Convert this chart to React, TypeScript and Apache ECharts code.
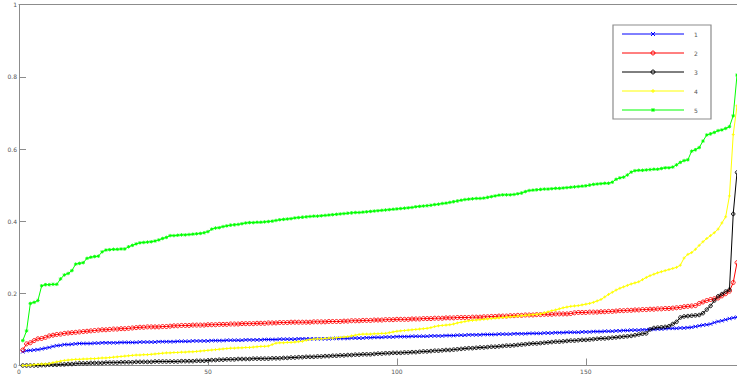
import { useEffect, useRef } from "react";
import * as echarts from "echarts";

// Tick positions shown on each axis
const xTicks = [0, 50, 100, 150];
const yTicks = [0, 0.2, 0.4, 0.6, 0.8, 1];

// Series labels as they appear in the legend
const seriesNames = ["1", "2", "3", "4", "5"];

// Sorted values per series, in thousandths, for x = 1..190
const series1 = [
  38, 41, 42, 43, 44, 46, 48, 50, 53, 55,
  56, 58, 58, 59, 60, 61, 61, 61, 61, 62,
  62, 63, 63, 63, 63, 63, 64, 64, 64, 64,
  64, 65, 65, 65, 65, 65, 66, 66, 66, 66,
  66, 67, 67, 67, 67, 68, 68, 68, 68, 68,
  69, 69, 69, 69, 70, 70, 70, 70, 70, 71,
  71, 71, 71, 71, 72, 72, 72, 72, 73, 73,
  73, 73, 73, 74, 74, 74, 74, 74, 74, 74,
  74, 74, 75, 75, 75, 75, 75, 76, 76, 76,
  76, 77, 77, 78, 78, 78, 79, 79, 79, 80,
  80, 80, 80, 81, 81, 81, 81, 81, 82, 82,
  82, 82, 83, 83, 83, 84, 84, 84, 85, 85,
  85, 85, 86, 86, 86, 86, 87, 87, 87, 87,
  88, 88, 88, 88, 89, 89, 89, 89, 90, 90,
  90, 91, 91, 91, 92, 92, 92, 92, 93, 93,
  93, 94, 94, 94, 95, 95, 95, 96, 96, 97,
  97, 98, 98, 98, 99, 99, 100, 100, 101, 101,
  102, 103, 103, 103, 104, 104, 105, 106, 108, 110,
  112, 113, 115, 119, 122, 124, 127, 130, 132, 134,
];

const series2 = [
  43, 60, 63, 69, 74, 75, 78, 82, 84, 86,
  87, 89, 90, 91, 92, 93, 94, 95, 96, 97,
  98, 99, 99, 100, 101, 101, 102, 102, 103, 104,
  105, 106, 106, 107, 107, 107, 107, 108, 108, 109,
  110, 110, 111, 111, 111, 112, 112, 112, 112, 113,
  113, 113, 114, 114, 114, 115, 115, 115, 116, 116,
  116, 116, 117, 117, 117, 118, 118, 118, 119, 119,
  119, 120, 120, 120, 120, 120, 120, 121, 121, 121,
  121, 122, 122, 122, 122, 123, 123, 124, 124, 124,
  125, 125, 125, 126, 126, 126, 127, 127, 127, 128,
  128, 128, 128, 129, 129, 129, 130, 130, 130, 131,
  131, 131, 132, 132, 132, 133, 133, 133, 133, 134,
  134, 134, 135, 135, 136, 136, 137, 137, 137, 138,
  138, 139, 139, 140, 140, 140, 141, 141, 142, 142,
  142, 143, 143, 143, 143, 144, 146, 147, 147, 147,
  148, 148, 148, 149, 149, 150, 150, 151, 152, 152,
  153, 153, 154, 154, 155, 155, 156, 156, 157, 157,
  158, 158, 159, 160, 161, 163, 164, 165, 166, 172,
  176, 180, 183, 185, 187, 193, 199, 206, 230, 285,
];

const series3 = [
  0, 0, 0, 0, 0, 1, 1, 2, 2, 2,
  3, 3, 4, 4, 5, 6, 6, 6, 7, 7,
  7, 7, 8, 8, 8, 8, 9, 9, 9, 9,
  10, 10, 10, 10, 10, 11, 11, 11, 11, 11,
  11, 11, 12, 12, 12, 12, 13, 13, 13, 14,
  15, 15, 16, 16, 17, 17, 17, 18, 18, 18,
  18, 19, 19, 19, 19, 19, 20, 20, 20, 21,
  21, 22, 22, 23, 23, 24, 24, 24, 25, 25,
  26, 26, 27, 27, 28, 28, 29, 29, 30, 30,
  31, 31, 31, 32, 33, 33, 34, 34, 35, 35,
  35, 36, 36, 37, 37, 38, 39, 39, 40, 41,
  41, 42, 43, 43, 44, 45, 46, 47, 48, 48,
  49, 50, 50, 51, 52, 52, 53, 54, 55, 55,
  56, 57, 58, 59, 60, 61, 61, 62, 63, 64,
  65, 66, 66, 67, 68, 69, 69, 70, 71, 71,
  72, 73, 74, 75, 75, 76, 77, 78, 79, 80,
  81, 82, 84, 86, 88, 89, 100, 104, 105, 106,
  107, 109, 115, 121, 133, 136, 137, 138, 139, 140,
  145, 155, 165, 180, 192, 198, 205, 210, 420, 535,
];

const series4 = [
  0, 0, 1, 2, 3, 4, 4, 5, 8, 10,
  12, 14, 15, 16, 17, 17, 18, 18, 19, 19,
  20, 21, 21, 22, 23, 24, 25, 26, 27, 28,
  29, 29, 30, 30, 31, 32, 33, 34, 35, 35,
  36, 36, 37, 37, 38, 38, 39, 40, 41, 42,
  43, 44, 45, 46, 47, 48, 48, 49, 49, 50,
  50, 51, 52, 53, 53, 54, 58, 62, 63, 63,
  64, 64, 65, 66, 67, 70, 72, 73, 74, 74,
  75, 76, 76, 77, 78, 79, 80, 82, 84, 86,
  87, 87, 87, 88, 88, 89, 89, 91, 93, 95,
  96, 97, 98, 99, 100, 101, 102, 103, 105, 108,
  110, 111, 112, 113, 115, 118, 120, 122, 124, 125,
  126, 127, 128, 129, 130, 131, 132, 133, 134, 135,
  136, 137, 138, 139, 140, 141, 142, 143, 146, 149,
  152, 154, 157, 160, 162, 164, 165, 166, 168, 170,
  172, 175, 179, 183, 190, 197, 203, 209, 214, 218,
  222, 226, 229, 232, 238, 244, 249, 253, 257, 260,
  263, 266, 269, 272, 278, 298, 308, 313, 322, 333,
  343, 352, 360, 368, 378, 395, 412, 470, 640, 720,
];

const series5 = [
  69, 96, 172, 175, 180, 221, 224, 224, 225, 225,
  240, 251, 255, 263, 281, 283, 285, 297, 300, 302,
  303, 315, 320, 321, 322, 322, 323, 323, 329, 333,
  337, 340, 341, 342, 343, 345, 348, 352, 355, 360,
  360, 361, 362, 362, 363, 364, 365, 366, 368, 371,
  378, 381, 382, 385, 387, 389, 390, 391, 393, 395,
  396, 396, 397, 397, 398, 399, 400, 402, 404, 405,
  406, 407, 409, 410, 411, 412, 413, 414, 414, 415,
  416, 417, 418, 419, 420, 421, 422, 423, 424, 424,
  425, 426, 427, 428, 429, 430, 431, 432, 433, 434,
  435, 436, 437, 438, 440, 441, 442, 443, 444, 446,
  447, 449, 450, 452, 454, 456, 458, 460, 461, 462,
  463, 463, 464, 466, 468, 470, 472, 473, 473, 473,
  474, 476, 478, 482, 485, 486, 487, 488, 489, 489,
  490, 491, 491, 492, 493, 494, 495, 496, 497, 498,
  500, 502, 503, 504, 505, 505, 508, 516, 520, 522,
  528, 536, 540, 541, 541, 542, 543, 544, 544, 546,
  548, 548, 550, 556, 563, 568, 570, 594, 598, 604,
  622, 639, 642, 646, 651, 653, 657, 662, 692, 805,
];

const allSeries = [series1, series2, series3, series4, series5];

const COLORS = ["#0000ff", "#ff0000", "#000000", "#ffff00", "#00ff00"];
const MARKERS = ["x", "o", "o", "+", "*"];
const MARKER_SIZES = [3.5, 4, 3.5, 3, 3.5];

const AXIS_COLOR = "#8c8c8c";
const TEXT_COLOR = "#555555";
const FONT = "DejaVu Sans, Liberation Sans, sans-serif";

function symbolFor(kind: string): string {
  switch (kind) {
    case "x":
      return "path://M0,0L4,4M4,0L0,4";
    case "+":
      return "path://M2,0L2,4M0,2L4,2";
    case "*":
      return "path://M2,0L2,4M0,2L4,2M0.6,0.6L3.4,3.4M3.4,0.6L0.6,3.4";
    default:
      return "circle";
  }
}

// Marker glyph for the legend box, centred on (cx, cy)
function legendMarker(kind: string, cx: number, cy: number, color: string): any[] {
  const st = { stroke: color, lineWidth: 1, fill: "none" };
  const seg = (x1: number, y1: number, x2: number, y2: number) => ({
    type: "line",
    shape: { x1, y1, x2, y2 },
    style: st,
    silent: true,
  });
  const r = 2;
  if (kind === "o") {
    return [{ type: "circle", shape: { cx, cy, r: 2 }, style: st, silent: true }];
  }
  if (kind === "x") {
    return [seg(cx - r, cy - r, cx + r, cy + r), seg(cx + r, cy - r, cx - r, cy + r)];
  }
  if (kind === "+") {
    return [seg(cx - r, cy, cx + r, cy), seg(cx, cy - r, cx, cy + r)];
  }
  return [
    seg(cx - r, cy, cx + r, cy),
    seg(cx, cy - r, cx, cy + r),
    seg(cx - 1.4, cy - 1.4, cx + 1.4, cy + 1.4),
    seg(cx + 1.4, cy - 1.4, cx - 1.4, cy + 1.4),
  ];
}

export default function App() {
  const ref = useRef<HTMLDivElement>(null);

  useEffect(() => {
    if (!ref.current) return;
    const chart = echarts.init(ref.current, null, { renderer: "svg" });

    const series = allSeries.map((vals, si) => ({
      type: "line",
      name: seriesNames[si],
      data: vals.map((v, i) => [i + 1, v / 1000]),
      symbol: symbolFor(MARKERS[si]),
      symbolSize: MARKER_SIZES[si],
      showAllSymbol: true,
      lineStyle: { color: COLORS[si], width: 1 },
      itemStyle: { color: "rgba(0,0,0,0)", borderColor: COLORS[si], borderWidth: 0.9 },
      emphasis: { disabled: true },
      silent: true,
      z: 2 + si,
    }));

    // Legend box in the upper right corner
    const boxX = 613;
    const boxY = 25;
    const rowYs = [34, 53, 72, 91, 110];
    const legendChildren: any[] = [
      {
        type: "rect",
        shape: { x: boxX, y: boxY, width: 98, height: 94 },
        style: { fill: "#ffffff", stroke: "#8c8c8c", lineWidth: 1.2 },
        silent: true,
      },
    ];
    seriesNames.forEach((name, si) => {
      const y = rowYs[si];
      legendChildren.push({
        type: "line",
        shape: { x1: 622, y1: y, x2: 684, y2: y },
        style: { stroke: COLORS[si], lineWidth: 1 },
        silent: true,
      });
      legendChildren.push(...legendMarker(MARKERS[si], 653, y, COLORS[si]));
      legendChildren.push({
        type: "text",
        x: 694,
        y,
        style: {
          text: name,
          fill: TEXT_COLOR,
          fontSize: 6,
          fontFamily: FONT,
          verticalAlign: "middle",
          align: "left",
        },
        silent: true,
      });
    });

    chart.setOption({
      animation: false,
      backgroundColor: "#ffffff",
      grid: { left: 19, right: 0, top: 4.7, bottom: 10.5, containLabel: false },
      xAxis: [
        {
          type: "value",
          min: 0,
          max: 190,
          position: "bottom",
          axisLine: { show: true, onZero: false, lineStyle: { color: AXIS_COLOR, width: 1 } },
          axisTick: {
            show: true,
            inside: true,
            length: 7,
            customValues: xTicks,
            lineStyle: { color: AXIS_COLOR },
          },
          axisLabel: {
            show: true,
            customValues: xTicks,
            fontSize: 6,
            color: TEXT_COLOR,
            fontFamily: FONT,
            margin: 3,
          },
          splitLine: { show: false },
        },
        {
          type: "value",
          min: 0,
          max: 190,
          position: "top",
          axisLine: { show: true, onZero: false, lineStyle: { color: AXIS_COLOR, width: 1 } },
          axisTick: { show: false },
          axisLabel: { show: false },
          splitLine: { show: false },
        },
      ],
      yAxis: {
        type: "value",
        min: 0,
        max: 1,
        interval: 0.2,
        axisLine: { show: true, onZero: false, lineStyle: { color: AXIS_COLOR, width: 1 } },
        axisTick: {
          show: true,
          inside: true,
          length: 7,
          customValues: yTicks,
          lineStyle: { color: AXIS_COLOR },
        },
        axisLabel: {
          show: true,
          customValues: yTicks,
          fontSize: 6,
          color: TEXT_COLOR,
          fontFamily: FONT,
          margin: 2,
        },
        splitLine: { show: false },
      },
      series,
      graphic: [{ type: "group", z: 100, children: legendChildren }],
    });

    return () => chart.dispose();
  }, []);

  return (
    <div
      ref={ref}
      style={{ position: "absolute", left: 0, top: 0, width: 737, height: 376, background: "#fff" }}
    />
  );
}
